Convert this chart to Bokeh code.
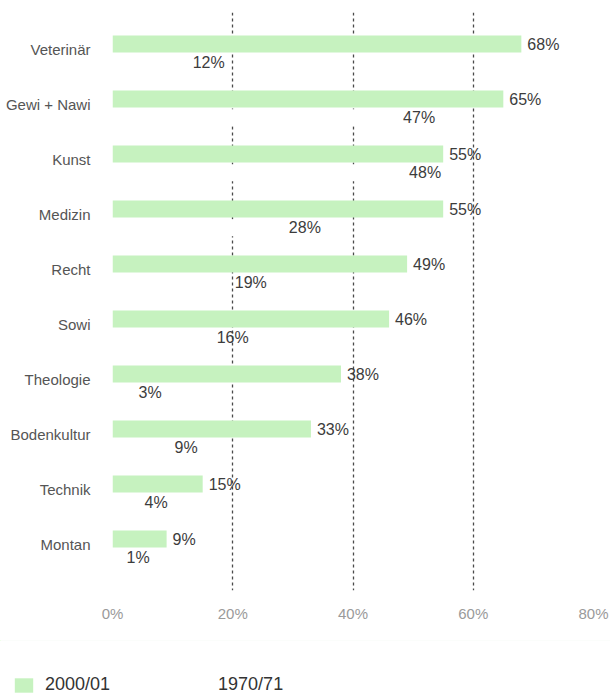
from bokeh.plotting import figure
from bokeh.models import (ColumnDataSource, Range1d, FixedTicker, Legend, LegendItem, LabelSet)
from bokeh.core.properties import value
from bokeh.transform import dodge
from bokeh.embed import file_html
from bokeh.resources import INLINE

categories = ["Veterinär", "Gewi + Nawi", "Kunst", "Medizin", "Recht",
              "Sowi", "Theologie", "Bodenkultur", "Technik", "Montan"]
share_2000 = [68, 65, 55, 55, 49, 46, 38, 33, 15, 9]
share_1970 = [12, 47, 48, 28, 19, 16, 3, 9, 4, 1]
x_ticks = [0, 20, 40, 60, 80]
x_tick_labels = ["0%", "20%", "40%", "60%", "80%"]
series_names = ["2000/01", "1970/71"]

FONT = "Liberation Sans"
GREEN = "#c6f2bf"
OLD_FILL = "white"

pos = list(range(len(categories)))
src = ColumnDataSource(dict(
    pos=pos,
    cat=categories,
    s2000=share_2000,
    s1970=share_1970,
    l2000=[f"{v}%" for v in share_2000],
    l1970=[f"{v}%" for v in share_1970],
))

p = figure(width=610, height=640, output_backend="svg", toolbar_location=None,
           x_range=Range1d(0, 80), y_range=Range1d(9.836, -0.673),
           min_border_left=112, min_border_right=17, min_border_top=12,
           min_border_bottom=50)
p.outline_line_color = None
p.background_fill_color = "white"

p.ygrid.visible = False
p.xgrid.ticker = FixedTicker(ticks=x_ticks[1:-1])
p.xgrid.grid_line_color = "#4a4a4a"
p.xgrid.grid_line_width = 1.3
p.xgrid.grid_line_dash = "3 3"

r_new = p.hbar(y=dodge("pos", -0.10), left=0, right="s2000", height=0.31,
               source=src, fill_color=GREEN, line_color=None)
r_old = p.hbar(y=dodge("pos", 0.24), left=0, right="s1970", height=0.31,
               source=src, fill_color=OLD_FILL, line_color=None)

lab_new = LabelSet(x="s2000", y=dodge("pos", -0.10), text="l2000", source=src,
                   x_offset=6, text_baseline="middle", text_align="left",
                   text_font=value(FONT), text_font_size="16px", text_color="#3c3c3c")
lab_old = LabelSet(x="s1970", y=dodge("pos", 0.24), text="l1970", source=src,
                   x_offset=8, text_baseline="middle", text_align="left",
                   text_font=value(FONT), text_font_size="16px", text_color="#3c3c3c")
p.add_layout(lab_new)
p.add_layout(lab_old)

p.yaxis.ticker = FixedTicker(ticks=pos)
p.yaxis.major_label_overrides = {i: c for i, c in zip(pos, categories)}
p.yaxis.axis_line_color = None
p.yaxis.major_tick_line_color = None
p.yaxis.minor_tick_line_color = None
p.yaxis.major_label_standoff = 16
p.yaxis.major_label_text_font = FONT
p.yaxis.major_label_text_font_size = "15px"
p.yaxis.major_label_text_color = "#555555"

p.xaxis.ticker = FixedTicker(ticks=x_ticks)
p.xaxis.major_label_overrides = {t: l for t, l in zip(x_ticks, x_tick_labels)}
p.xaxis.axis_line_color = None
p.xaxis.major_tick_line_color = None
p.xaxis.minor_tick_line_color = None
p.xaxis.major_label_standoff = 8
p.xaxis.major_label_text_font = FONT
p.xaxis.major_label_text_font_size = "15px"
p.xaxis.major_label_text_color = "#9a9a9a"

# legend strip: a separate small figure rendered as a second root below the chart
lg = figure(width=610, height=55, output_backend="svg", toolbar_location=None,
            x_range=Range1d(0, 1), y_range=Range1d(-100, -99),
            min_border_left=0, min_border_right=0, min_border_top=0,
            min_border_bottom=0)
lg.axis.visible = False
lg.grid.visible = False
lg.outline_line_color = None
k_new = lg.hbar(y="pos", left=0, right="s2000", height=0.3, source=src,
                fill_color=GREEN, line_color=None)
k_old = lg.hbar(y="pos", left=0, right="s1970", height=0.3, source=src,
                fill_color=OLD_FILL, line_color=None)
legend = Legend(items=[LegendItem(label=series_names[0], renderers=[k_new]),
                       LegendItem(label=series_names[1], renderers=[k_old])],
                location=(12, 0), orientation="horizontal",
                glyph_width=23, glyph_height=18, label_standoff=10,
                spacing=75, padding=0, margin=0,
                border_line_color=None, background_fill_alpha=0,
                label_text_font=FONT, label_text_font_size="18px",
                label_text_color="#333333")
lg.add_layout(legend, "center")

open("out.html", "w").write(file_html((p, lg), INLINE))
